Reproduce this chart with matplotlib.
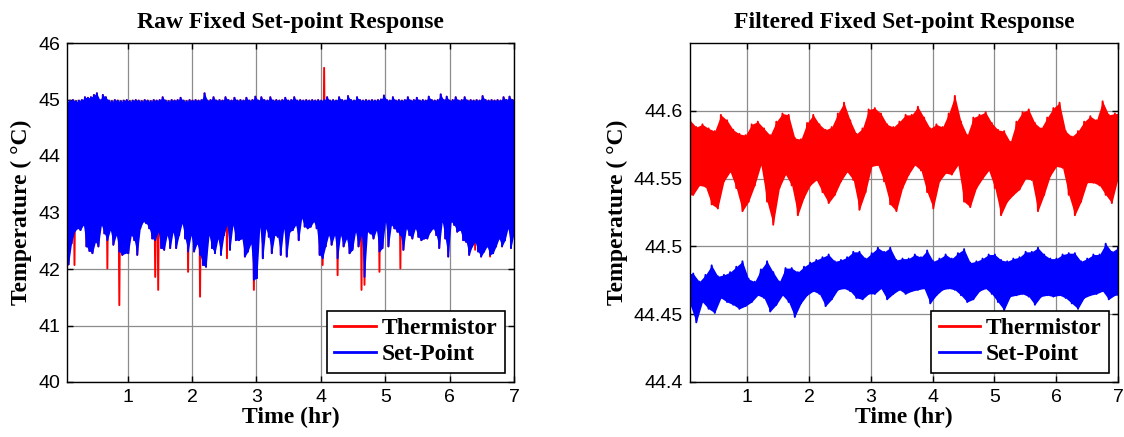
import numpy as np
import matplotlib
matplotlib.use('Agg')
import matplotlib.pyplot as plt

# ---------------- data ----------------
# Raw panel: the set-point trace swings between a top and a bottom value
raw_blue_high = [
    44.97, 44.98, 44.99, 44.97, 44.98, 44.99, 45.04, 45.03, 45.04, 45.08,
    45.11, 44.99, 45.08, 45.04, 44.98, 44.97, 44.99, 44.98, 44.97, 44.98,
    44.99, 44.97, 44.98, 44.99, 44.98, 44.97, 44.99, 44.98, 44.97, 44.99,
    44.98, 44.99, 45.04, 44.98, 44.97, 44.99, 44.98, 44.99, 45.03, 44.98,
    44.97, 44.99, 44.98, 44.99, 44.98, 44.99, 45.11, 44.98, 44.99, 45.04,
    44.98, 44.99, 44.98, 45.04, 44.99, 44.98, 45.03, 44.98, 44.99, 44.98,
    45.03, 44.98, 44.99, 45.05, 44.98, 45.04, 44.99, 44.98, 45.04, 44.98,
    44.99, 44.98, 44.99, 45.03, 44.98, 44.99, 45.04, 44.98, 44.99, 44.98,
    44.99, 44.98, 44.99, 44.98, 44.99, 44.98, 44.99, 45.04, 44.98, 44.99,
    44.98, 45.04, 44.99, 44.98, 45.06, 44.99, 44.98, 45.04, 44.99, 44.98,
    44.99, 44.98, 44.99, 44.98, 44.99, 45.00, 45.07, 44.99, 44.98, 45.04,
    44.98, 44.99, 44.98, 44.99, 45.04, 44.98, 44.99, 45.03, 44.98, 44.99,
    44.98, 45.05, 44.99, 44.98, 44.99, 45.09, 44.99, 45.05, 44.98, 44.99,
    45.04, 44.98, 44.99, 45.04, 44.98, 44.99, 44.98, 44.99, 44.98, 45.06,
    44.99, 44.98, 44.99, 44.98, 44.99, 44.98, 45.04, 44.99, 45.05, 44.99,
]
raw_blue_low = [
    42.08, 42.45, 42.66, 42.72, 42.69, 42.78, 42.40, 42.32, 42.28, 42.48,
    42.40, 42.78, 42.63, 42.51, 42.69, 42.43, 42.60, 42.31, 42.25, 42.28,
    42.28, 42.60, 42.51, 42.25, 42.72, 42.84, 42.81, 42.72, 42.54, 42.51,
    42.66, 42.37, 42.34, 42.60, 42.37, 42.66, 42.37, 42.60, 42.81, 42.54,
    42.31, 42.60, 42.31, 42.45, 42.25, 42.07, 42.04, 42.60, 42.37, 42.28,
    42.54,
    42.25, 42.60, 42.78, 42.34, 42.78, 42.51, 42.51, 42.54, 42.22, 42.31,
    42.45, 41.81, 41.84, 42.75, 42.19, 42.72, 42.57, 42.28, 42.60, 42.57,
    42.25, 42.72, 42.22, 42.66, 42.69, 42.78, 42.51, 42.90, 42.75, 42.72,
    42.75, 42.84, 42.72, 42.25, 42.19, 42.40, 42.60, 42.43, 42.60, 42.19,
    42.60, 42.40, 42.54, 42.28, 42.34, 42.66, 42.40, 42.60, 41.86, 42.66,
    42.63, 42.54, 42.69, 42.31, 42.37, 42.84, 42.40, 42.78, 42.72, 42.66,
    42.60, 42.34, 42.72, 42.60, 42.54, 42.72, 42.57, 42.51, 42.54, 42.54,
    42.66, 42.72, 42.60, 42.37, 42.84, 42.54, 42.22, 42.84, 42.78, 42.66,
    42.69, 42.51, 42.48, 42.25, 42.40, 42.48, 42.31, 42.22, 42.31, 42.40,
    42.25, 42.28, 42.40, 42.54, 42.40, 42.51, 42.72, 42.37, 42.63,
]
# Thermistor excursions that show outside the set-point band
raw_red_dip_time = [0.18, 0.69, 0.87, 1.43, 1.48, 1.94, 2.13, 2.54, 2.96,
                    4.03, 4.26, 4.49, 4.63, 4.68, 4.91, 5.24, 6.40, 6.63]
raw_red_dip_temp = [42.07, 42.01, 41.36, 41.86, 41.63, 41.95, 41.51, 42.19, 41.63,
                    42.07, 41.89, 42.37, 41.63, 41.72, 41.95, 42.01, 42.34, 42.22]
raw_red_spike_time = [4.05]
raw_red_spike_temp = [45.56]

# Filtered panel: upper / lower excursions every 0.1 hr
filt_red_upper = [
    44.593, 44.588, 44.590, 44.587, 44.585, 44.597, 44.593, 44.586, 44.583, 44.582,
    44.590, 44.592, 44.587, 44.582, 44.592, 44.598, 44.597, 44.580,
    44.579, 44.591, 44.597, 44.590, 44.586, 44.588, 44.598, 44.606, 44.593, 44.583,
    44.587, 44.601, 44.602, 44.598, 44.590, 44.588, 44.592,
    44.597, 44.597, 44.603, 44.595, 44.587, 44.590, 44.588, 44.598, 44.611, 44.592,
    44.582, 44.595, 44.597, 44.599, 44.591, 44.586, 44.585,
    44.577, 44.592, 44.599, 44.601, 44.591, 44.587, 44.595, 44.602, 44.606, 44.585,
    44.581, 44.585, 44.592, 44.596, 44.593, 44.607, 44.597, 44.598,
]
filt_red_lower = [
    44.538, 44.545, 44.544, 44.531, 44.528, 44.548, 44.555, 44.543, 44.526, 44.533,
    44.545, 44.560, 44.533, 44.516, 44.543, 44.553, 44.545, 44.523,
    44.536, 44.545, 44.549, 44.540, 44.532, 44.538, 44.548, 44.555, 44.549, 44.527,
    44.540, 44.559, 44.560, 44.548, 44.531, 44.526, 44.543,
    44.553, 44.560, 44.556, 44.540, 44.528, 44.548, 44.554, 44.553, 44.560, 44.533,
    44.529, 44.543, 44.550, 44.556, 44.543, 44.523, 44.533,
    44.538, 44.542, 44.550, 44.549, 44.526, 44.538, 44.552, 44.559, 44.558, 44.538,
    44.523, 44.533, 44.547, 44.547, 44.545, 44.538, 44.532, 44.550,
]
filt_blue_upper = [
    44.480, 44.474, 44.479, 44.486, 44.478, 44.479, 44.481, 44.485, 44.489, 44.476,
    44.474, 44.483, 44.489, 44.481, 44.474, 44.484, 44.484, 44.481,
    44.485, 44.488, 44.490, 44.492, 44.494, 44.489, 44.490, 44.492, 44.496, 44.496,
    44.491, 44.495, 44.499, 44.496, 44.499, 44.490, 44.491,
    44.491, 44.494, 44.492, 44.497, 44.489, 44.491, 44.494, 44.491, 44.495, 44.498,
    44.488, 44.489, 44.491, 44.494, 44.494, 44.490, 44.489,
    44.491, 44.492, 44.496, 44.496, 44.499, 44.494, 44.491, 44.491, 44.494, 44.495,
    44.495, 44.489, 44.491, 44.494, 44.494, 44.502, 44.496, 44.499,
]
filt_blue_lower = [
    44.457, 44.444, 44.459, 44.454, 44.451, 44.462, 44.459, 44.457, 44.454, 44.456,
    44.459, 44.464, 44.462, 44.452, 44.457, 44.464, 44.459, 44.448,
    44.458, 44.464, 44.467, 44.465, 44.456, 44.461, 44.468, 44.469, 44.467, 44.462,
    44.461, 44.465, 44.465, 44.469, 44.461, 44.465, 44.468,
    44.465, 44.467, 44.468, 44.469, 44.458, 44.464, 44.468, 44.469, 44.468, 44.464,
    44.459, 44.461, 44.467, 44.469, 44.465, 44.459, 44.453,
    44.463, 44.464, 44.465, 44.463, 44.457, 44.463, 44.464, 44.463, 44.464, 44.462,
    44.458, 44.454, 44.462, 44.464, 44.465, 44.467, 44.461, 44.464,
]

x_ticks = [1, 2, 3, 4, 5, 6, 7]
raw_y_ticks = [40, 41, 42, 43, 44, 45, 46]
filt_y_ticks = [44.4, 44.45, 44.5, 44.55, 44.6]
filt_y_tick_labels = ['44.4', '44.45', '44.5', '44.55', '44.6']
series_labels = ['Thermistor', 'Set-Point']
titles = ['Raw Fixed Set-point Response', 'Filtered Fixed Set-point Response']
x_label = 'Time (hr)'
y_label = 'Temperature ( \u00b0C)'

# ---------------- build traces ----------------
n_raw = len(raw_blue_low)
raw_time = np.linspace(0.06, 7.0, 2 * n_raw)
t_high = raw_time[0::2]
t_low = raw_time[1::2]
blue_raw = np.empty(2 * n_raw)
blue_raw[0::2] = raw_blue_high
blue_raw[1::2] = raw_blue_low
red_high = np.array(raw_blue_high, dtype=float)
red_low = np.array(raw_blue_low, dtype=float)
for t, v in zip(raw_red_dip_time, raw_red_dip_temp):
    red_low[np.argmin(np.abs(t_low - t))] = v
for t, v in zip(raw_red_spike_time, raw_red_spike_temp):
    red_high[np.argmin(np.abs(t_high - t))] = v
red_raw = np.empty(2 * n_raw)
red_raw[0::2] = red_high
red_raw[1::2] = red_low

n_f = len(filt_red_upper)
filt_time = np.linspace(0.075, 7.0, 2 * n_f)
ft_a = filt_time[0::2]
ft_b = filt_time[1::2]
red_f = np.empty(2 * n_f)
red_f[0::2] = filt_red_upper
red_f[1::2] = filt_red_lower
blue_f = np.empty(2 * n_f)
blue_f[0::2] = filt_blue_lower
blue_f[1::2] = filt_blue_upper

# ---------------- figure ----------------
serif = ['Liberation Serif', 'DejaVu Serif']
sans = ['Liberation Sans', 'DejaVu Sans']
fig = plt.figure(figsize=(11.24, 4.37), dpi=100)
ax1 = fig.add_axes([67 / 1124, 55 / 437, 447 / 1124, 339 / 437])
ax2 = fig.add_axes([690 / 1124, 55 / 437, 428 / 1124, 339 / 437])

RED = '#ff0000'
BLUE = '#0000ff'

ax1.plot(raw_time, red_raw, color=RED, lw=1.4, label=series_labels[0], zorder=2)
ax1.fill_between(raw_time, np.interp(raw_time, t_high, raw_blue_high),
                 np.interp(raw_time, t_low, raw_blue_low), color=BLUE, lw=0, zorder=3)
ax1.plot(raw_time, blue_raw, color=BLUE, lw=1.4, label=series_labels[1], zorder=4)

ax2.fill_between(filt_time, np.interp(filt_time, ft_a, filt_red_upper),
                 np.interp(filt_time, ft_b, filt_red_lower), color=RED, lw=0, zorder=2)
ax2.plot(filt_time, red_f, color=RED, lw=1.4, label=series_labels[0], zorder=3)
ax2.fill_between(filt_time, np.interp(filt_time, ft_b, filt_blue_upper),
                 np.interp(filt_time, ft_a, filt_blue_lower), color=BLUE, lw=0, zorder=2)
ax2.plot(filt_time, blue_f, color=BLUE, lw=1.4, label=series_labels[1], zorder=3)

ax1.set_xlim(0.06, 7.0)
ax1.set_ylim(40, 46)
ax1.set_yticks(raw_y_ticks)
ax2.set_xlim(0.073, 7.0)
ax2.set_ylim(44.4, 44.65)
ax2.set_yticks(filt_y_ticks)
ax2.set_yticklabels(filt_y_tick_labels)

for ax, title in zip((ax1, ax2), titles):
    ax.set_xticks(x_ticks)
    ax.grid(True, color='#8c8c8c', lw=0.9, ls='-')
    ax.set_axisbelow(True)
    ax.tick_params(direction='in', top=True, right=True, length=4, width=1,
                   labelsize=14, pad=5)
    for lab in ax.get_xticklabels() + ax.get_yticklabels():
        lab.set_fontfamily(sans)
    for sp in ax.spines.values():
        sp.set_color('black')
        sp.set_linewidth(1.0)
        sp.set_zorder(6)
    ax.set_title(title, fontfamily=serif, fontweight='bold', fontsize=17, pad=11)
    ax.set_xlabel(x_label, fontfamily=serif, fontweight='bold', fontsize=17, labelpad=1)
    ax.set_ylabel(y_label, fontfamily=serif, fontweight='bold', fontsize=17, labelpad=4)
    leg = ax.legend(loc='lower right', bbox_to_anchor=(1.0, 0.0),
                    borderaxespad=0.4, fancybox=False, framealpha=1,
                    edgecolor='black', handlelength=1.75, handletextpad=0.25,
                    borderpad=0.3, labelspacing=0.2,
                    prop={'family': serif, 'weight': 'bold', 'size': 17})
    leg.set_zorder(10)
    leg.get_frame().set_linewidth(1.2)
    for h in leg.get_lines():
        h.set_linewidth(2.0)

fig.savefig('out.png', dpi=100)
